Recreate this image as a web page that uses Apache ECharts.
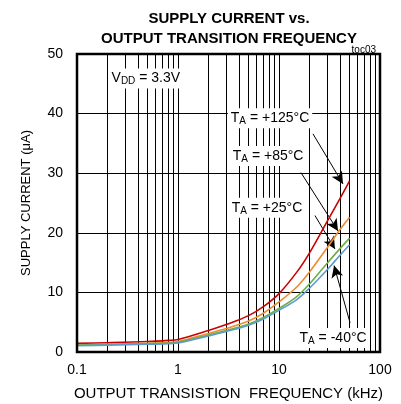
<!DOCTYPE html>
<html>
<head>
<meta charset="utf-8">
<script src="https://cdn.jsdelivr.net/npm/echarts@6/dist/echarts.min.js"></script>
<style>
  html, body { margin: 0; padding: 0; background: #fff; }
  #main { width: 401px; height: 404px; }
</style>
</head>
<body>
<div id="main"></div>
<script>
// frequency in kHz
const freq = [0.1, 0.2, 0.5, 0.8, 1, 2, 3, 5, 7, 10, 15, 20, 30, 40, 50];
// supply current in uA
const t125 = [1.45, 1.55, 1.75, 1.95, 2.1, 3.6, 4.6, 6.1, 7.6, 9.8, 13.4, 16.6, 21.9, 25.7, 28.7];
const t85 = [1.2, 1.3, 1.45, 1.6, 1.75, 3.1, 3.95, 5.2, 6.5, 8.4, 10.9, 13.4, 17.5, 20.5, 22.6];
const t25 = [1.15, 1.25, 1.4, 1.5, 1.65, 2.85, 3.6, 4.7, 5.8, 7.3, 9.3, 11.4, 14.9, 17.3, 19.1];
const tm40 = [1.05, 1.15, 1.3, 1.4, 1.5, 2.7, 3.45, 4.5, 5.55, 7.0, 8.8, 10.7, 13.8, 16.2, 18.0];
const yTicks = [0, 10, 20, 30, 40, 50];
const minorX = [0.2, 0.3, 0.4, 0.5, 0.6, 0.7, 0.8, 0.9, 2, 3, 4, 5, 6, 7, 8, 9, 20, 30, 40, 50, 60, 70, 80, 90];

const curves = [
  { name: "+125", data: t125, color: "#cc0000" },
  { name: "+85", data: t85, color: "#f08a2e" },
  { name: "+25", data: t25, color: "#70ad47" },
  { name: "-40", data: tm40, color: "#5b9bd5" },
];

// annotation labels [x, y, text]
const notes = [
  [0.48, 45.9, "V{s|DD} = 3.3V"],
  [8.15, 39.2, "T{s|A} = +125°C"],
  [7.8, 32.9, "T{s|A} = +85°C"],
  [7.6, 24.2, "T{s|A} = +25°C"],
  [34.3, 2.35, "T{s|A} = -40°C"],
];
// arrows [from, to]
const arrows = [
  [[21.7, 36.6], [43, 28.2]],
  [[16.5, 30.1], [38.4, 20.3]],
  [[22.7, 22.9], [35.8, 17.3]],
  [[50.5, 4.9], [35.1, 14.5]],
];

const font = "Liberation Sans, Arial, sans-serif";
const chart = echarts.init(document.getElementById("main"));

const series = curves.map((c) => ({
  name: c.name,
  type: "line",
  smooth: 0.35,
  showSymbol: false,
  silent: true,
  lineStyle: { color: c.color, width: 1.6 },
  data: freq.map((f, i) => [f, c.data[i]]),
  z: 5,
}));

// minor grid lines
series.push({
  type: "line",
  data: [],
  silent: true,
  markLine: {
    silent: true,
    symbol: "none",
    animation: false,
    label: { show: false },
    lineStyle: { color: "#000", width: 1, type: "solid" },
    data: minorX.map((v) => ({ xAxis: v })),
  },
  z: 1,
});
// arrows + text notes
series.push({
  type: "line",
  data: [],
  silent: true,
  markLine: {
    silent: true,
    animation: false,
    symbol: ["none", "arrow"],
    symbolSize: [9, 12],
    label: { show: false },
    lineStyle: { color: "#000", width: 1, type: "solid" },
    data: arrows.map((a) => [{ coord: a[0] }, { coord: a[1] }]),
  },
  markPoint: {
    silent: true,
    animation: false,
    symbol: "rect",
    symbolSize: 0,
    label: {
      show: true,
      position: "inside",
      formatter: (p) => p.data.text,
      color: "#000",
      fontFamily: font,
      fontSize: 14,
      backgroundColor: "#fff",
      padding: [2, 3],
      rich: {
        s: { fontSize: 10, fontFamily: font, color: "#000", verticalAlign: "bottom", padding: [6, 0, 0, 0] },
      },
    },
    data: notes.map((n) => ({ coord: [n[0], n[1]], text: n[2] })),
  },
  z: 10,
});

chart.setOption({
  animation: false,
  backgroundColor: "#fff",
  title: [
    {
      text: "SUPPLY CURRENT vs.\nOUTPUT TRANSITION FREQUENCY",
      left: 224,
      top: 4,
      textAlign: "center",
      textStyle: {
        fontFamily: font,
        fontWeight: "bold",
        fontSize: 15,
        lineHeight: 20,
        color: "#000",
      },
    },
    {
      text: "toc03",
      right: 20,
      top: 40,
      textStyle: { fontFamily: font, fontWeight: "normal", fontSize: 10, color: "#000" },
    },
  ],
  grid: {
    left: 77,
    right: 21,
    top: 54,
    bottom: 52,
    containLabel: false,
    outerBoundsMode: "none",
    show: true,
    borderColor: "#000",
    borderWidth: 2.5,
    z: 20,
  },
  xAxis: {
    type: "log",
    logBase: 10,
    min: 0.1,
    max: 100,
    name: "OUTPUT TRANSISTION  FREQUENCY (kHz)",
    nameLocation: "middle",
    nameGap: 34,
    nameTextStyle: { fontFamily: font, fontSize: 15, color: "#000" },
    axisLine: { show: false },
    axisTick: { show: false },
    axisLabel: {
      fontFamily: font,
      fontSize: 14,
      color: "#000",
      margin: 11,
      formatter: (v) => String(+v.toPrecision(3)),
    },
    splitLine: { show: true, lineStyle: { color: "#000", width: 1 } },
  },
  yAxis: {
    type: "value",
    min: yTicks[0],
    max: yTicks[yTicks.length - 1],
    interval: 10,
    name: "SUPPLY CURRENT (μA)",
    nameLocation: "middle",
    nameGap: 44,
    nameTextStyle: { fontFamily: font, fontSize: 13, color: "#000" },
    axisLine: { show: false },
    axisTick: { show: false },
    axisLabel: { fontFamily: font, fontSize: 14, color: "#000", margin: 14 },
    splitLine: { show: true, lineStyle: { color: "#000", width: 1 } },
  },
  series,
});
</script>
</body>
</html>
